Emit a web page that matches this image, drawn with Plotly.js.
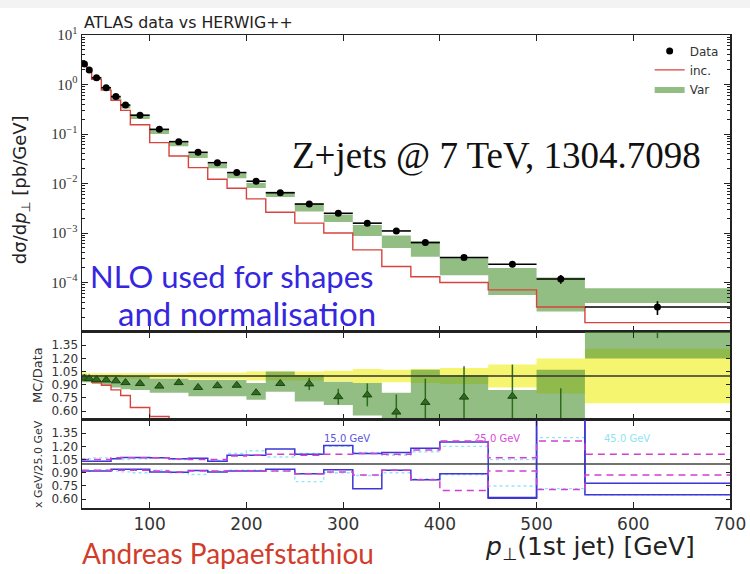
<!DOCTYPE html>
<html>
<head>
<meta charset="utf-8">
<script src="https://cdn.plot.ly/plotly-3.0.1.min.js"></script>
<style>
  html, body { margin: 0; padding: 0; background: #ffffff; }
  #chart { width: 750px; height: 574px; }
</style>
</head>
<body>
<div id="chart"></div>
<script>
// Leading-jet pT bins (GeV)
const binEdges = [30, 35, 40, 50, 60, 70, 80, 100, 120, 140, 160, 180, 200, 220, 250, 280, 310, 340, 370, 400, 450, 500, 550, 700];

// ATLAS measurement, dsigma/dpT [pb/GeV], and its relative uncertainty
const dataVals = [2.6, 1.96, 1.37, 0.86, 0.57, 0.385, 0.24, 0.124, 0.070, 0.0426, 0.0263, 0.0166, 0.0111, 0.0065, 0.00385, 0.0025, 0.00158, 0.0011, 0.00064, 0.00032, 0.000234, 0.000118, 0.000032];
const dataRelErr = [0.04, 0.03, 0.03, 0.03, 0.03, 0.03, 0.03, 0.03, 0.03, 0.04, 0.04, 0.04, 0.05, 0.05, 0.05, 0.06, 0.08, 0.07, 0.08, 0.09, 0.13, 0.20, 0.31];

// HERWIG++ inclusive prediction [pb/GeV]
const incVals = [2.55, 1.88, 1.27, 0.77, 0.48, 0.30, 0.154, 0.067, 0.036, 0.0209, 0.0122, 0.0080, 0.0049, 0.00263, 0.00158, 0.0010, 0.000457, 0.00021, 0.000131, 0.0001, 0.000071, 0.000032, 0.0000155];

// Variation band, expressed as MC/Data
const varRatio = [0.975, 0.97, 0.96, 0.955, 0.945, 0.925, 0.915, 0.885, 0.925, 0.87, 0.89, 0.895, 0.81, 0.915, 0.91, 0.765, 0.785, 0.59, 0.70, 0.76, 0.77, 0.45, 1.9];
const varRatioErr = [0.01, 0.01, 0.01, 0.01, 0.01, 0.01, 0.01, 0.01, 0.015, 0.015, 0.02, 0.02, 0.02, 0.03, 0.07, 0.09, 0.13, 0.20, 0.27, 0.35, 0.36, 0.41, 0.47];
const varLo = [0.93, 0.93, 0.91, 0.90, 0.87, 0.85, 0.84, 0.81, 0.81, 0.77, 0.77, 0.77, 0.73, 0.82, 0.71, 0.67, 0.55, 0.45, 0.52, 0.44, 0.24, 0.22, 1.20];
const varHi = [1.02, 1.01, 1.01, 1.01, 1.01, 1.00, 1.00, 0.97, 0.97, 0.955, 0.955, 0.955, 0.92, 1.05, 1.01, 0.935, 0.92, 0.81, 1.07, 1.01, 0.84, 1.07, 2.40];

// Merging-scale variations relative to 25 GeV (upper / lower envelopes)
const scale15Hi = [1.03, 1.03, 1.03, 1.03, 1.06, 1.075, 1.075, 1.07, 1.06, 1.065, 1.03, 1.10, 1.10, 1.17, 1.11, 1.21, 1.12, 1.13, 1.18, 1.25, 0.62, 2.0, 0.78];
const scale15Lo = [0.92, 0.92, 0.92, 0.92, 0.94, 0.94, 0.94, 0.91, 0.905, 0.925, 0.91, 0.92, 0.92, 0.94, 0.89, 0.935, 0.72, 0.93, 0.82, 0.89, 0.61, 2.0, 0.65];
const scale25Hi = [1.05, 1.05, 1.05, 1.05, 1.07, 1.07, 1.07, 1.07, 1.06, 1.05, 1.05, 1.09, 1.10, 1.11, 1.10, 1.11, 1.12, 1.11, 1.16, 1.26, 1.07, 1.26, 1.11];
const scale25Lo = [0.93, 0.93, 0.93, 0.93, 0.93, 0.93, 0.93, 0.92, 0.91, 0.92, 0.92, 0.92, 0.92, 0.92, 0.89, 0.91, 0.875, 0.93, 0.82, 0.70, 0.92, 0.71, 0.875];
const scale45Hi = [1.06, 1.06, 1.07, 1.07, 1.06, 1.05, 1.06, 1.07, 1.05, 1.06, 1.04, 1.12, 1.15, 1.08, 1.12, 1.20, 1.13, 1.10, 1.14, 1.20, 1.05, 1.30, 0.78];
const scale45Lo = [0.92, 0.92, 0.93, 0.93, 0.92, 0.91, 0.90, 0.93, 0.90, 0.88, 0.92, 0.93, 0.93, 0.92, 0.80, 0.90, 0.87, 0.90, 0.83, 0.88, 0.75, 0.72, 0.65];

// Axis ticks
const xTickVals = [100, 200, 300, 400, 500, 600, 700];
const logTickVals = [1e-4, 1e-3, 1e-2, 1e-1, 1, 10];
const logTickText = ['10<sup>\u22124</sup>', '10<sup>\u22123</sup>', '10<sup>\u22122</sup>', '10<sup>\u22121</sup>', '10<sup>0</sup>', '10<sup>1</sup>'];
const ratioTickVals = [0.60, 0.75, 0.90, 1.05, 1.20, 1.35];

// ---- helpers ----
const nBins = binEdges.length - 1;
const centers = [], halfW = [];
for (let i = 0; i < nBins; i++) {
  centers.push((binEdges[i] + binEdges[i + 1]) / 2);
  halfW.push((binEdges[i + 1] - binEdges[i]) / 2);
}
function stepY(vals) { return vals.concat([vals[vals.length - 1]]); }
function boxes(lo, hi) {
  const xs = [], ys = [];
  for (let i = 0; i < nBins; i++) {
    xs.push(binEdges[i], binEdges[i + 1], binEdges[i + 1], binEdges[i], binEdges[i], null);
    ys.push(lo[i], lo[i], hi[i], hi[i], lo[i], null);
  }
  return { x: xs, y: ys };
}

const GREEN = 'rgba(80,150,55,0.62)';
const YELLOW = '#f6f56f';
const RED = '#d8433d';

const mainBand = boxes(varLo.map((r, i) => r * dataVals[i]), varHi.map((r, i) => r * dataVals[i]));
const yellowBand = boxes(dataRelErr.map(e => 1 - e), dataRelErr.map(e => 1 + e));
const ratioBand = boxes(varLo, varHi);
const incRatio = incVals.map((v, i) => v / dataVals[i]);

const traces = [
  // main panel
  { type: 'scatter', mode: 'lines', x: mainBand.x, y: mainBand.y, fill: 'toself', fillcolor: GREEN,
    line: { width: 0, color: GREEN }, name: 'Var', legendrank: 3, xaxis: 'x', yaxis: 'y', hoverinfo: 'skip' },
  { type: 'scatter', mode: 'lines', x: binEdges, y: stepY(incVals), line: { shape: 'hv', color: RED, width: 1.4 },
    name: 'inc.', legendrank: 2, xaxis: 'x', yaxis: 'y' },
  { type: 'scatter', mode: 'markers', x: centers, y: dataVals, name: 'Data', legendrank: 1,
    marker: { color: '#000', size: 7, symbol: 'circle' },
    error_x: { type: 'data', array: halfW, color: '#000', thickness: 1.6, width: 0 },
    error_y: { type: 'data', array: dataVals.map((v, i) => v * dataRelErr[i]), color: '#000', thickness: 1.6, width: 0 },
    xaxis: 'x', yaxis: 'y' },

  // MC/Data panel
  { type: 'scatter', mode: 'lines', x: yellowBand.x, y: yellowBand.y, fill: 'toself', fillcolor: YELLOW,
    line: { width: 0, color: YELLOW }, showlegend: false, xaxis: 'x2', yaxis: 'y2', hoverinfo: 'skip' },
  { type: 'scatter', mode: 'lines', x: ratioBand.x, y: ratioBand.y, fill: 'toself', fillcolor: GREEN,
    line: { width: 0, color: GREEN }, showlegend: false, xaxis: 'x2', yaxis: 'y2', hoverinfo: 'skip' },
  { type: 'scatter', mode: 'lines', x: binEdges, y: stepY(incRatio), line: { shape: 'hv', color: RED, width: 1.4 },
    showlegend: false, xaxis: 'x2', yaxis: 'y2' },
  { type: 'scatter', mode: 'markers', x: centers, y: varRatio, showlegend: false,
    marker: { symbol: 'triangle-up', size: 8, color: '#2f6b1f', line: { color: '#1c4512', width: 1 } },
    error_y: { type: 'data', array: varRatioErr, color: '#2f6b1f', thickness: 1.5, width: 0 },
    xaxis: 'x2', yaxis: 'y2' },

  // merging-scale panel
  { type: 'scatter', mode: 'lines', x: binEdges, y: stepY(scale45Hi), line: { shape: 'hv', color: '#92e6f6', width: 1.4, dash: 'dot' }, showlegend: false, xaxis: 'x3', yaxis: 'y3' },
  { type: 'scatter', mode: 'lines', x: binEdges, y: stepY(scale45Lo), line: { shape: 'hv', color: '#92e6f6', width: 1.4, dash: 'dot' }, showlegend: false, xaxis: 'x3', yaxis: 'y3' },
  { type: 'scatter', mode: 'lines', x: binEdges, y: stepY(scale15Hi), line: { shape: 'hv', color: '#3d37d6', width: 1.5 }, showlegend: false, xaxis: 'x3', yaxis: 'y3' },
  { type: 'scatter', mode: 'lines', x: binEdges, y: stepY(scale15Lo), line: { shape: 'hv', color: '#3d37d6', width: 1.5 }, showlegend: false, xaxis: 'x3', yaxis: 'y3' },
  { type: 'scatter', mode: 'lines', x: binEdges, y: stepY(scale25Hi), line: { shape: 'hv', color: '#d13fd2', width: 1.5, dash: '7px,5px' }, showlegend: false, xaxis: 'x3', yaxis: 'y3' },
  { type: 'scatter', mode: 'lines', x: binEdges, y: stepY(scale25Lo), line: { shape: 'hv', color: '#d13fd2', width: 1.5, dash: '7px,5px' }, showlegend: false, xaxis: 'x3', yaxis: 'y3' }
];

// minor ticks for the log axis
const minorLog = [];
for (let d = -5; d < 1; d++) for (let k = 2; k <= 9; k++) minorLog.push(k * Math.pow(10, d));

const axisLine = { showline: true, linecolor: '#222', linewidth: 1.5, mirror: 'ticks', ticks: 'inside',
  tickcolor: '#222', showgrid: false, zeroline: false };

const xBase = Object.assign({}, axisLine, { range: [30, 700], tickvals: xTickVals, ticklen: 6, tickwidth: 1 });
const ratioY = Object.assign({}, axisLine, { range: [0.5, 1.5], tickvals: ratioTickVals,
  ticktext: ratioTickVals.map(v => v.toFixed(2)), ticklen: 4, tickwidth: 1,
  tickfont: { family: 'DejaVu Sans', size: 12, color: '#333' } });

const layout = {
  width: 750, height: 574,
  margin: { l: 82, r: 20, t: 35, b: 66 },
  paper_bgcolor: '#ffffff', plot_bgcolor: '#ffffff',
  showlegend: true,
  legend: { x: 0.876, y: 0.997, xanchor: 'left', yanchor: 'top', bgcolor: 'rgba(0,0,0,0)',
    font: { family: 'DejaVu Sans', size: 12, color: '#333' }, itemwidth: 30, tracegroupgap: 0 },
  xaxis: Object.assign({}, xBase, { anchor: 'y', showticklabels: false }),
  xaxis2: Object.assign({}, xBase, { anchor: 'y2', matches: 'x', showticklabels: false }),
  xaxis3: Object.assign({}, xBase, { anchor: 'y3', matches: 'x', showticklabels: true,
    tickfont: { family: 'DejaVu Sans', size: 17, color: '#333' } }),
  yaxis: Object.assign({}, axisLine, { domain: [0.3721, 1], type: 'log', range: [-5, 1],
    tickvals: logTickVals, ticktext: logTickText, ticklen: 6, tickwidth: 1,
    tickfont: { family: 'Liberation Serif', size: 15, color: '#333' },
    minor: { tickvals: minorLog, ticks: 'inside', ticklen: 3, tickcolor: '#222', showgrid: false } }),
  yaxis2: Object.assign({}, ratioY, { domain: [0.18605, 0.3721], anchor: 'x2' }),
  yaxis3: Object.assign({}, ratioY, { domain: [0, 0.18605], anchor: 'x3' }),
  shapes: [
    { type: 'rect', xref: 'paper', yref: 'paper', x0: -0.13, x1: 1.04, y0: 1.057, y1: 1.08,
      fillcolor: '#f3f3f3', line: { width: 0 }, layer: 'below' },
    { type: 'line', xref: 'x2 domain', yref: 'y2', x0: 0, x1: 1, y0: 1, y1: 1, line: { color: '#333', width: 1.6 }, layer: 'above' },
    { type: 'line', xref: 'x3 domain', yref: 'y3', x0: 0, x1: 1, y0: 1, y1: 1, line: { color: '#444', width: 1.3 }, layer: 'above' }
  ],
  annotations: [
    { xref: 'paper', yref: 'paper', x: 0, y: 1.0268, xanchor: 'left', yanchor: 'middle', showarrow: false,
      text: 'ATLAS data vs HERWIG++', font: { family: 'DejaVu Sans', size: 15.8, color: '#222' } },
    { xref: 'paper', yref: 'paper', x: -0.0941, y: 0.672, xanchor: 'center', yanchor: 'middle', showarrow: false,
      textangle: -90, text: 'd\u03c3/d<i>p</i><sub>\u22a5</sub> [pb/GeV]', font: { family: 'DejaVu Sans', size: 18, color: '#222' } },
    { xref: 'paper', yref: 'paper', x: -0.0679, y: 0.2812, xanchor: 'center', yanchor: 'middle', showarrow: false,
      textangle: -90, text: 'MC/Data', font: { family: 'DejaVu Sans', size: 13, color: '#333' } },
    { xref: 'paper', yref: 'paper', x: -0.0679, y: 0.093, xanchor: 'center', yanchor: 'middle', showarrow: false,
      textangle: -90, text: 'x GeV/25.0 GeV', font: { family: 'DejaVu Sans', size: 11, color: '#333' } },
    { xref: 'paper', yref: 'paper', x: 0.949, y: -0.0846, xanchor: 'right', yanchor: 'middle', showarrow: false,
      text: '<i>p</i><sub>\u22a5</sub>(1st jet) [GeV]', font: { family: 'DejaVu Sans', size: 25, color: '#222' } },
    { xref: 'paper', yref: 'paper', x: 0.6397, y: 0.7463, xanchor: 'center', yanchor: 'middle', showarrow: false,
      text: 'Z+jets @ 7 TeV, 1304.7098', font: { family: 'Liberation Serif', size: 37, color: '#111' } },
    { xref: 'paper', yref: 'paper', x: 0.0093, y: 0.4905, xanchor: 'left', yanchor: 'middle', showarrow: false,
      text: 'NLO used for shapes', font: { family: 'Lato', size: 31, color: '#3526e0' } },
    { xref: 'paper', yref: 'paper', x: 0.0525, y: 0.4123, xanchor: 'left', yanchor: 'middle', showarrow: false,
      text: 'and normalisation', font: { family: 'Lato', size: 33, color: '#3526e0' } },
    { xref: 'paper', yref: 'paper', x: -0.003, y: -0.0951, xanchor: 'left', yanchor: 'middle', showarrow: false,
      text: 'Andreas Papaefstathiou', font: { family: 'Lato', size: 28, color: '#d23c2a' } },
    { xref: 'x3', yref: 'y3', x: 278, y: 1.295, xanchor: 'left', yanchor: 'middle', showarrow: false,
      text: '15.0 GeV', font: { family: 'DejaVu Sans', size: 10, color: '#5b55e0' } },
    { xref: 'x3', yref: 'y3', x: 433, y: 1.295, xanchor: 'left', yanchor: 'middle', showarrow: false,
      text: '25.0 GeV', font: { family: 'DejaVu Sans', size: 10, color: '#d64bd6' } },
    { xref: 'x3', yref: 'y3', x: 568, y: 1.295, xanchor: 'left', yanchor: 'middle', showarrow: false,
      text: '45.0 GeV', font: { family: 'DejaVu Sans', size: 10, color: '#8fe3f3' } }
  ]
};

Plotly.newPlot('chart', traces, layout, { displayModeBar: false, staticPlot: true });
</script>
</body>
</html>
